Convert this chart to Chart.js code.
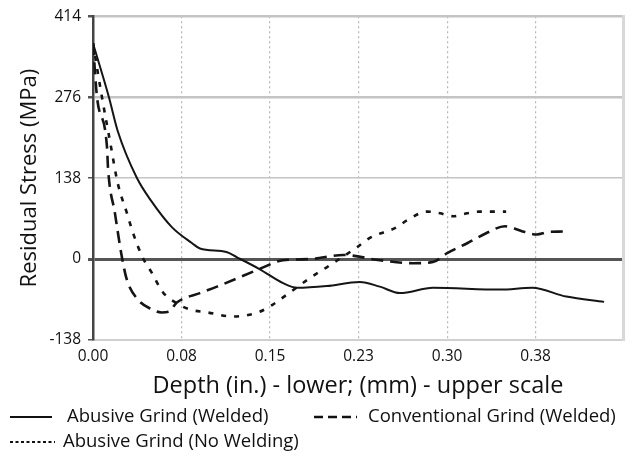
<!DOCTYPE html>
<html>
<head>
<meta charset="utf-8">
<script src="https://cdn.jsdelivr.net/npm/chart.js@4.4.0/dist/chart.umd.min.js"></script>
<style>
  html, body { margin: 0; padding: 0; background: #ffffff; }
  #wrap { width: 634px; height: 457px; position: relative; }
</style>
</head>
<body>
<div id="wrap"><canvas id="c" width="634" height="457"></canvas></div>
<script>
// ---- Data ----
const xTickValues = [0, 0.075, 0.15, 0.225, 0.3, 0.375];
const xTickLabels = ['0.00', '0.08', '0.15', '0.23', '0.30', '0.38'];
const yTickValues = [-138, 0, 138, 276, 414];
const yTickLabels = ['-138', '0', '138', '276', '414'];

const seriesLabels = ['Abusive Grind (Welded)', 'Conventional Grind (Welded)', 'Abusive Grind (No Welding)'];

const abusiveWeldedX = [0, 0.0135, 0.021, 0.037, 0.049, 0.067, 0.084, 0.0906, 0.113, 0.122, 0.141, 0.161, 0.173, 0.198, 0.226, 0.243, 0.260, 0.288, 0.345, 0.372, 0.401, 0.433];
const abusiveWeldedY = [368, 276, 218, 139, 100, 54, 27, 18, 12, 3, -17, -41, -49, -46, -39, -47, -58, -49, -52, -49, -64, -73];

const conventionalWeldedX = [0, 0.0034, 0.0119, 0.0127, 0.0186, 0.0245, 0.0288, 0.038, 0.050, 0.058, 0.064, 0.071, 0.0906, 0.105, 0.141, 0.161, 0.184, 0.212, 0.243, 0.271, 0.288, 0.300, 0.317, 0.333, 0.349, 0.357, 0.366, 0.376, 0.385, 0.398];
const conventionalWeldedY = [368, 276, 190, 156, 78, 3, -36, -69, -86, -91, -90, -74, -58, -47, -17, -2, 0, 7, -2, -7, -5, 10, 27, 44, 56, 52, 46, 42, 46, 47];

const abusiveNoWeldX = [0, 0.0076, 0.0144, 0.021, 0.0288, 0.034, 0.042, 0.050, 0.059, 0.069, 0.082, 0.097, 0.119, 0.141, 0.152, 0.164, 0.184, 0.198, 0.2235, 0.2345, 0.257, 0.266, 0.283, 0.294, 0.305, 0.317, 0.3275, 0.350];
const abusiveNoWeldY = [368, 276, 201, 129, 78, 44, 3, -24, -56, -73, -86, -91, -98, -90, -78, -61, -32, -14, 20, 36, 54, 66, 81, 78, 73, 78, 81, 81];

const xAxisTitle = 'Depth (in.) - lower; (mm) - upper scale';
const yAxisTitle = 'Residual Stress (MPa)';

// ---- Helpers ----
const toPoints = (xs, ys) => xs.map((x, i) => ({ x: x, y: ys[i] }));
const FONT = "'Open Sans', 'Noto Sans', sans-serif";

const legendStyle = [
  { x1: 10, x2: 52, y: 417, tx: 67, dash: [], lw: 2.2 },
  { x1: 314, x2: 357, y: 417, tx: 368, dash: [9, 5], lw: 2.6 },
  { x1: 10, x2: 55, y: 442, tx: 63, dash: [3, 2.5], lw: 1.8 }
];

const customLegend = {
  id: 'customLegend',
  afterDraw(chart) {
    const ctx = chart.ctx;
    chart.data.datasets.forEach((ds, i) => {
      const s = legendStyle[i];
      ctx.save();
      ctx.strokeStyle = '#111';
      ctx.lineWidth = s.lw;
      ctx.setLineDash(s.dash);
      ctx.beginPath();
      ctx.moveTo(s.x1, s.y);
      ctx.lineTo(s.x2, s.y);
      ctx.stroke();
      ctx.setLineDash([]);
      ctx.fillStyle = '#111';
      ctx.font = '18.5px ' + FONT;
      ctx.textBaseline = 'middle';
      ctx.textAlign = 'left';
      ctx.fillText(ds.label, s.tx, s.y);
      ctx.restore();
    });
  }
};

const yGridColor = (ctx) => {
  const v = ctx.tick && ctx.tick.value;
  if (v === 0) return '#555555';
  if (v === -138) return 'rgba(0,0,0,0)';
  return '#c4c4c4';
};
const yGridWidth = (ctx) => {
  const v = ctx.tick && ctx.tick.value;
  if (v === 0) return 3;
  if (v === 276 || v === 414) return 2.5;
  return 1.5;
};

new Chart(document.getElementById('c'), {
  type: 'line',
  data: {
    datasets: [
      {
        label: seriesLabels[0],
        data: toPoints(abusiveWeldedX, abusiveWeldedY),
        borderColor: '#151515',
        borderWidth: 2,
        borderDash: [],
        pointRadius: 0,
        cubicInterpolationMode: 'monotone',
        fill: false
      },
      {
        label: seriesLabels[1],
        data: toPoints(conventionalWeldedX, conventionalWeldedY),
        borderColor: '#151515',
        borderWidth: 2.6,
        borderDash: [12, 7],
        pointRadius: 0,
        cubicInterpolationMode: 'monotone',
        fill: false
      },
      {
        label: seriesLabels[2],
        data: toPoints(abusiveNoWeldX, abusiveNoWeldY),
        borderColor: '#151515',
        borderWidth: 2.6,
        borderDash: [5, 8],
        pointRadius: 0,
        cubicInterpolationMode: 'monotone',
        fill: false
      }
    ]
  },
  options: {
    responsive: false,
    animation: false,
    devicePixelRatio: 1,
    layout: { padding: { left: 0, right: 11, top: 14, bottom: 57 } },
    plugins: {
      legend: { display: false },
      tooltip: { enabled: false },
      title: { display: false }
    },
    scales: {
      x: {
        type: 'linear',
        min: 0,
        max: 0.449,
        afterBuildTicks: (scale) => { scale.ticks = xTickValues.map(v => ({ value: v })); },
        afterFit: (scale) => { scale.height = 60; },
        ticks: {
          callback: (value) => {
            const i = xTickValues.findIndex(v => Math.abs(v - value) < 1e-6);
            return i >= 0 ? xTickLabels[i] : '';
          },
          font: { family: FONT, size: 15.5 },
          color: '#111',
          padding: 7,
          maxRotation: 0,
          autoSkip: false
        },
        grid: {
          color: (ctx) => (ctx.tick && ctx.tick.value === 0) ? 'rgba(0,0,0,0)' : '#b5b5b5',
          lineWidth: 1.2,
          drawTicks: false
        },
        border: { display: true, color: '#d0d0d0', width: 2, dash: [2, 3] },
        title: {
          display: true,
          text: xAxisTitle,
          font: { family: FONT, size: 23.5 },
          color: '#111',
          padding: { top: 0, bottom: 0 }
        }
      },
      y: {
        type: 'linear',
        min: -138,
        max: 414,
        afterBuildTicks: (scale) => { scale.ticks = yTickValues.map(v => ({ value: v })); },
        afterFit: (scale) => { scale.width = 93; },
        ticks: {
          callback: (value) => {
            const i = yTickValues.indexOf(value);
            return i >= 0 ? yTickLabels[i] : '';
          },
          font: { family: FONT, size: 15.5 },
          color: '#111',
          padding: 7
        },
        grid: {
          color: yGridColor,
          lineWidth: yGridWidth,
          drawTicks: true,
          tickLength: 5,
          tickColor: '#555'
        },
        border: { display: true, color: '#444', width: 2.5 },
        title: {
          display: true,
          text: yAxisTitle,
          font: { family: FONT, size: 22 },
          color: '#111',
          padding: { top: 17, bottom: 0 }
        }
      },
      yRight: {
        type: 'linear',
        position: 'right',
        min: -138,
        max: 414,
        ticks: { display: false },
        grid: { display: false, drawTicks: false },
        border: { display: true, color: '#d8d8d8', width: 3 }
      }
    }
  },
  plugins: [customLegend]
});
</script>
</body>
</html>
